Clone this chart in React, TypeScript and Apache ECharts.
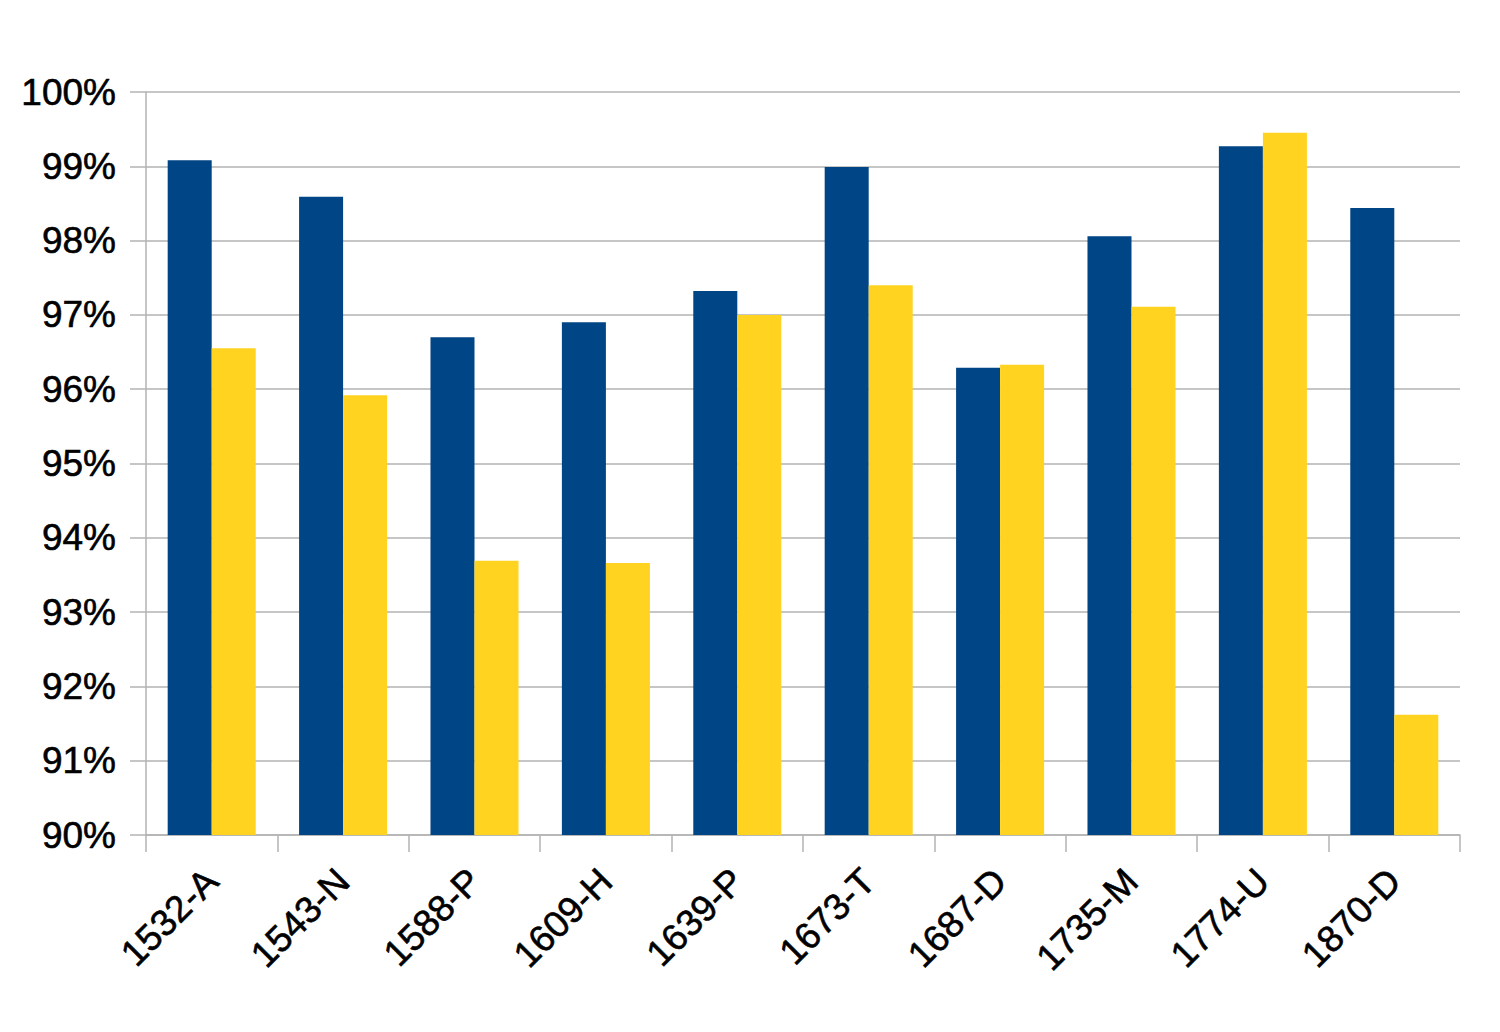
import React, { useEffect, useRef } from "react";
import * as echarts from "echarts";

const categories = ["1532-A", "1543-N", "1588-P", "1609-H", "1639-P", "1673-T", "1687-D", "1735-M", "1774-U", "1870-D"];
const seriesA = [99.08, 98.59, 96.7, 96.9, 97.32, 98.99, 96.29, 98.06, 99.27, 98.44];
const seriesB = [96.55, 95.92, 93.69, 93.66, 97.0, 97.4, 96.33, 97.11, 99.45, 91.62];
const yMin = 90;
const yMax = 100;
const yStep = 1;

export default function App() {
  const ref = useRef<HTMLDivElement>(null);
  useEffect(() => {
    document.body.style.margin = "0";
    const chart = echarts.init(ref.current!, null, { renderer: "svg" });
    chart.setOption({
      animation: false,
      backgroundColor: "#ffffff",
      grid: { left: 146, right: 40, top: 92, bottom: 197, containLabel: false },
      xAxis: {
        type: "category",
        data: categories,
        axisLine: { show: true, lineStyle: { color: "#b3b3b3", width: 1.5 } },
        axisTick: { show: true, length: 17, lineStyle: { color: "#b3b3b3", width: 1.5 } },
        axisLabel: {
          rotate: 45,
          margin: 40,
          color: "#000000",
          fontFamily: "Liberation Sans",
          fontSize: 37,
          interval: 0,
          textBorderColor: "#000000",
          textBorderWidth: 0.6,
        },
      },
      yAxis: {
        type: "value",
        min: yMin,
        max: yMax,
        interval: yStep,
        axisLine: { show: true, lineStyle: { color: "#b3b3b3", width: 1.5 } },
        axisTick: { show: true, length: 16, lineStyle: { color: "#b3b3b3", width: 1.5 } },
        splitLine: { show: true, lineStyle: { color: "#b3b3b3", width: 1.5 } },
        axisLabel: {
          margin: 30,
          color: "#000000",
          fontFamily: "Liberation Sans",
          fontSize: 37,
          textBorderColor: "#000000",
          textBorderWidth: 0.6,
          formatter: (v: number) => `${v}%`,
        },
      },
      series: [
        { type: "bar", data: seriesA, itemStyle: { color: "#004586" }, barGap: "0%", barCategoryGap: "33%" },
        { type: "bar", data: seriesB, itemStyle: { color: "#ffd320" }, barGap: "0%", barCategoryGap: "33%" },
      ],
    });
    return () => chart.dispose();
  }, []);
  return <div ref={ref} style={{ width: 1500, height: 1032 }} />;
}
